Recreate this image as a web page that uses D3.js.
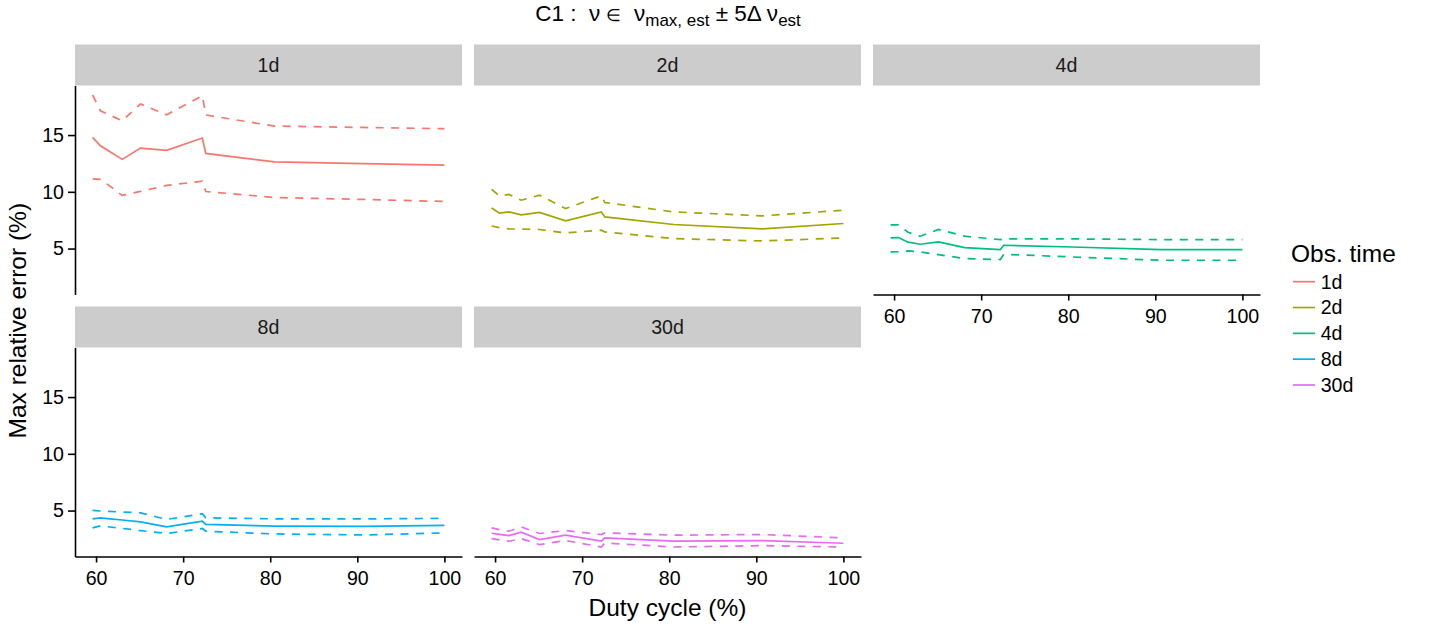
<!DOCTYPE html>
<html>
<head>
<meta charset="utf-8">
<script src="https://cdn.jsdelivr.net/npm/d3@7"></script>
<style>
  html, body { margin: 0; padding: 0; background: #fff; }
  svg { display: block; font-family: "Liberation Sans", Arial, Helvetica, sans-serif; }
</style>
</head>
<body>
<svg id="chart" width="1433" height="626"></svg>
<script>
// ---- data ----
const dutyCycle = [59.6, 60.5, 61.6, 63.0, 65.1, 68.1, 72.2, 72.6, 80.5, 90.7, 100];
const obsTimes = ["1d", "2d", "4d", "8d", "30d"];
const seriesColors = ["#F8766D", "#A3A500", "#00BF7D", "#00B0F6", "#E76BF3"];

const med1d = [14.80, 14.06, 13.53, 12.86, 13.85, 13.65, 14.74, 13.38, 12.64, 12.49, 12.35];
const hi1d  = [18.53, 17.14, 16.75, 16.26, 17.74, 16.79, 18.47, 16.77, 15.79, 15.67, 15.56];
const lo1d  = [11.14, 11.09, 10.50, 9.68, 10.04, 10.56, 10.94, 10.03, 9.50, 9.33, 9.15];

const med2d = [8.58, 8.12, 8.23, 7.97, 8.18, 7.44, 8.23, 7.79, 7.12, 6.73, 7.21];
const hi2d  = [10.21, 9.64, 9.77, 9.26, 9.70, 8.53, 9.64, 9.06, 8.23, 7.88, 8.38];
const lo2d  = [6.99, 6.85, 6.73, 6.72, 6.68, 6.38, 6.62, 6.47, 5.88, 5.67, 5.94];

const med4d = [5.94, 5.97, 5.56, 5.38, 5.58, 5.09, 4.91, 5.29, 5.14, 4.91, 4.91];
const hi4d  = [7.08, 7.08, 6.44, 6.09, 6.68, 6.09, 5.79, 5.85, 5.85, 5.79, 5.79];
const lo4d  = [4.70, 4.72, 4.79, 4.70, 4.47, 4.12, 4.03, 4.50, 4.26, 3.97, 3.97];

const med8d = [4.27, 4.36, 4.27, 4.17, 4.01, 3.56, 4.07, 3.78, 3.63, 3.60, 3.69];
const hi8d  = [5.02, 4.96, 4.92, 4.87, 4.80, 4.22, 4.72, 4.36, 4.27, 4.27, 4.31];
const lo8d  = [3.47, 3.65, 3.55, 3.43, 3.24, 2.98, 3.42, 3.18, 2.94, 2.85, 3.03];

const med30d = [3.00, 2.90, 2.80, 3.09, 2.44, 2.83, 2.30, 2.59, 2.30, 2.36, 2.12];
const hi30d  = [3.47, 3.32, 3.18, 3.56, 2.98, 3.24, 2.89, 3.03, 2.83, 2.89, 2.59];
const lo30d  = [2.53, 2.42, 2.30, 2.53, 2.00, 2.36, 1.79, 2.14, 1.79, 1.91, 1.79];

const xTicks = [60, 70, 80, 90, 100];
const yTicks = [5, 10, 15];

// ---- layout ----
const medians = [med1d, med2d, med4d, med8d, med30d];
const highs = [hi1d, hi2d, hi4d, hi8d, hi30d];
const lows = [lo1d, lo2d, lo4d, lo8d, lo30d];

const svg = d3.select("#chart");
const panelW = 387, panelH = 209, stripH = 41;
const colLeft = [75, 474, 873];
const rowTop = [85.5, 347.5];
const ncol = 3;

const allVals = [].concat(...highs, ...lows, ...medians);
const yMin = d3.min(allVals), yMax = d3.max(allVals);
const yPad = (yMax - yMin) * 0.05;
const xMin = d3.min(dutyCycle), xMax = d3.max(dutyCycle);
const xPad = (xMax - xMin) * 0.05;

const x = d3.scaleLinear().domain([xMin - xPad, xMax + xPad]).range([0, panelW]);
const y = d3.scaleLinear().domain([yMin - yPad, yMax + yPad]).range([panelH, 0]);

const line = d3.line().x((d, i) => x(dutyCycle[i])).y(d => y(d));

obsTimes.forEach((name, k) => {
  const r = Math.floor(k / ncol), c = k % ncol;
  const g = svg.append("g").attr("transform", `translate(${colLeft[c]},${rowTop[r]})`);

  // strip
  g.append("rect").attr("x", 0).attr("y", -stripH).attr("width", panelW).attr("height", stripH)
    .attr("fill", "#CCCCCC");
  g.append("text").attr("x", panelW / 2).attr("y", -stripH / 2).attr("dy", "0.35em")
    .attr("text-anchor", "middle").attr("font-size", 19.6).attr("fill", "#1A1A1A").text(name);

  // lines
  const col = seriesColors[k];
  [highs[k], lows[k]].forEach(arr => {
    g.append("path").attr("d", line(arr)).attr("fill", "none").attr("stroke", col)
      .attr("stroke-width", 1.7).attr("stroke-dasharray", "8,7.5");
  });
  g.append("path").attr("d", line(medians[k])).attr("fill", "none").attr("stroke", col)
    .attr("stroke-width", 1.7);

  // y axis on first column
  if (c === 0) {
    const ya = g.append("g").call(d3.axisLeft(y).tickValues(yTicks).tickSize(7).tickSizeOuter(0).tickPadding(4));
    ya.select(".domain").attr("stroke", "#000").attr("stroke-width", 1.6);
    ya.selectAll(".tick line").attr("stroke", "#000").attr("stroke-width", 1.6);
    ya.selectAll(".tick text").attr("font-size", 19.6).attr("fill", "#000")
      .attr("font-family", "Liberation Sans, Arial, sans-serif");
  }
  // x axis if no panel below
  const below = k + ncol;
  if (below >= obsTimes.length) {
    const xa = g.append("g").attr("transform", `translate(0,${panelH})`)
      .call(d3.axisBottom(x).tickValues(xTicks).tickSize(6).tickSizeOuter(0).tickPadding(8.5));
    xa.select(".domain").attr("stroke", "#000").attr("stroke-width", 1.6);
    xa.selectAll(".tick line").attr("stroke", "#000").attr("stroke-width", 1.6);
    xa.selectAll(".tick text").attr("font-size", 19.6).attr("fill", "#000")
      .attr("font-family", "Liberation Sans, Arial, sans-serif");
  }
});

// title
const t = svg.append("text").attr("x", 668).attr("y", 21).attr("text-anchor", "middle")
  .attr("font-size", 22.5).attr("fill", "#000").style("white-space", "pre");
t.append("tspan").text("C1 :  ν ");
t.append("tspan").attr("font-size", 17).text("∈");
t.append("tspan").text("  ν");
t.append("tspan").attr("font-size", 17).attr("dy", 5).text("max, est");
t.append("tspan").attr("dy", -5).text(" ± 5Δ ν");
t.append("tspan").attr("font-size", 17).attr("dy", 5).text("est");

// axis titles
svg.append("text").attr("x", 667.5).attr("y", 615.5).attr("text-anchor", "middle")
  .attr("font-size", 24.5).attr("fill", "#000").text("Duty cycle (%)");
svg.append("text").attr("transform", "translate(26,320.7) rotate(-90)").attr("text-anchor", "middle")
  .attr("font-size", 24.5).attr("fill", "#000").text("Max relative error (%)");

// legend
const lg = svg.append("g");
lg.append("text").attr("x", 1291).attr("y", 261.5).attr("font-size", 24.5).attr("fill", "#000").text("Obs. time");
const legendRowY = d3.scalePoint().domain(obsTimes).range([281.7, 385]);
obsTimes.forEach((name, k) => {
  const yy = legendRowY(name);
  lg.append("line").attr("x1", 1293).attr("x2", 1315).attr("y1", yy).attr("y2", yy)
    .attr("stroke", seriesColors[k]).attr("stroke-width", 1.7);
  lg.append("text").attr("x", 1320.7).attr("y", yy).attr("dy", "0.35em")
    .attr("font-size", 19.6).attr("fill", "#000").text(name);
});
</script>
</body>
</html>
